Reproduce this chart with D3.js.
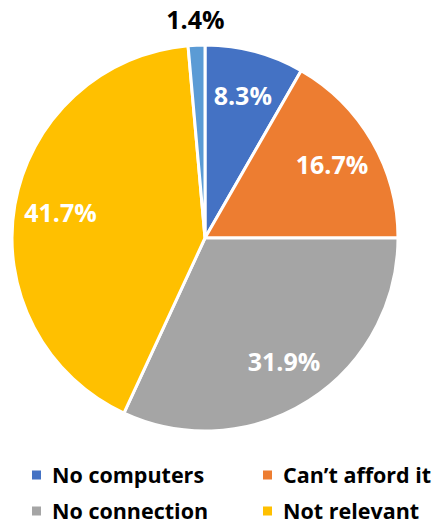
<!DOCTYPE html>
<html><head><meta charset="utf-8">
<script src="https://cdn.jsdelivr.net/npm/d3@7"></script>
<style>body{margin:0;background:#fff;}svg{display:block;font-family:"Open Sans",sans-serif;font-weight:bold;}</style>
</head><body>
<svg id="c" width="435" height="524"></svg>
<script>
const categories = ["No computers", "Can\u2019t afford it", "No connection", "Not relevant", "Other"];
const values = [8.3, 16.7, 31.9, 41.7, 1.4];
const labels = ["8.3%", "16.7%", "31.9%", "41.7%", "1.4%"];
const colors = ["#4472C4", "#ED7D31", "#A5A5A5", "#FFC000", "#5B9BD5"];
const legendItems = ["No computers", "Can\u2019t afford it", "No connection", "Not relevant"];

const svg = d3.select("#c");
const cx = 205, cy = 238, R = 193;
const g = svg.append("g").attr("transform", `translate(${cx},${cy})`);
const pie = d3.pie().sort(null).value(d => d)(values);
const arc = d3.arc().innerRadius(0).outerRadius(R);
g.selectAll("path").data(pie).join("path")
  .attr("d", arc).attr("fill", (d, i) => colors[i])
  .attr("stroke", "#fff").attr("stroke-width", 3).attr("stroke-linejoin", "round");

const labArc = d3.arc().innerRadius(R * 0.76).outerRadius(R * 0.76);
const outArc = d3.arc().innerRadius(R * 1.13).outerRadius(R * 1.13);
g.selectAll("text.lab").data(pie).join("text").attr("class", "lab")
  .attr("transform", (d, i) => `translate(${(i === 4 ? outArc : labArc).centroid(d)})`)
  .attr("text-anchor", "middle").attr("dy", "0.36em")
  .attr("font-size", 25)
  .attr("fill", (d, i) => i === 4 ? "#000" : "#fff")
  .text((d, i) => labels[i]);

const color = d3.scaleOrdinal().domain(categories).range(colors);
const lg = svg.append("g");
const items = lg.selectAll("g").data(legendItems).join("g")
  .attr("transform", (d, i) => `translate(${i % 2 === 0 ? 32 : 263},${i < 2 ? 475 : 511})`);
items.append("rect").attr("x", 0).attr("y", -4.5).attr("width", 9).attr("height", 9).attr("fill", d => color(d));
items.append("text").attr("x", 20).attr("dy", "0.36em").attr("font-size", 21.5).attr("fill", "#000").text(d => d);
</script>
</body></html>
